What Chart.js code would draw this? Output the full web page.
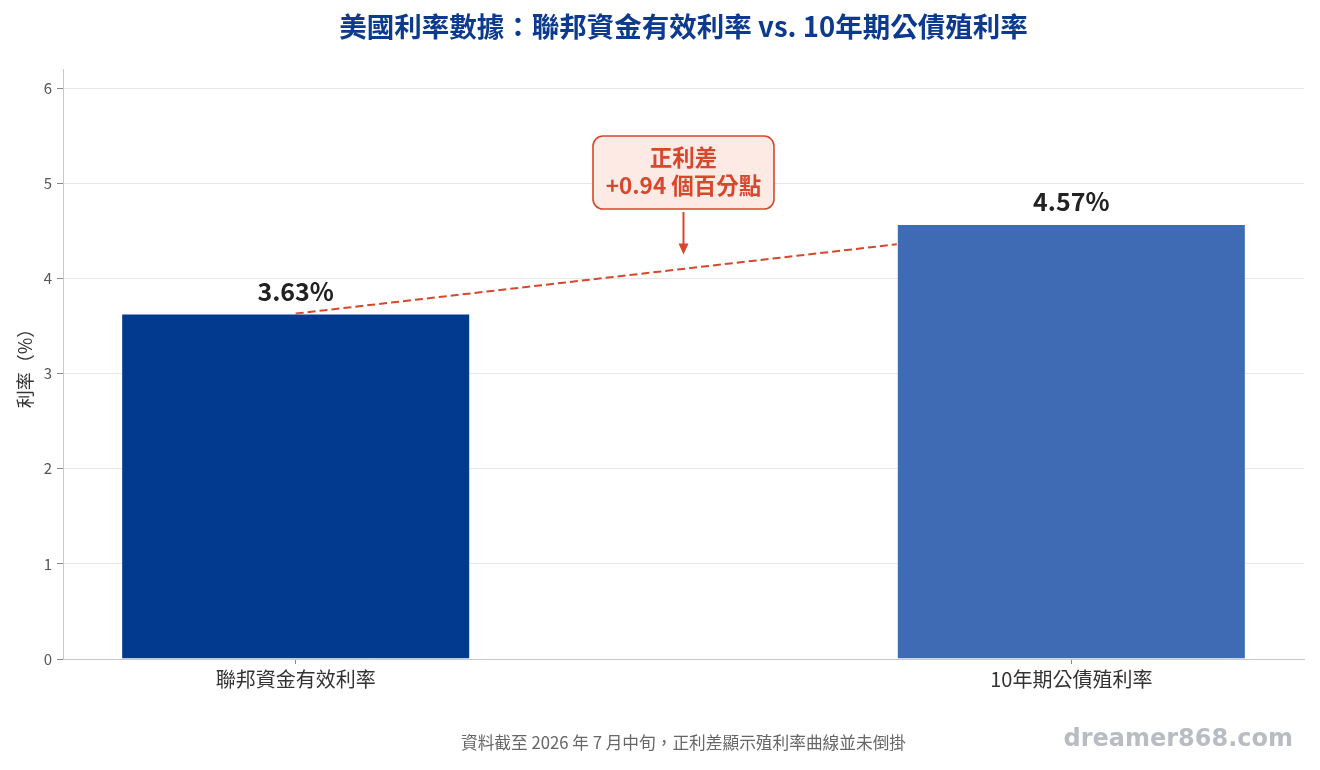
<!DOCTYPE html>
<html>
<head>
<meta charset="utf-8">
<script src="https://cdn.jsdelivr.net/npm/chart.js@4.4.1/dist/chart.umd.min.js"></script>
<style>
  html, body { margin: 0; padding: 0; background: #fff; }
  #wrap { width: 1320px; height: 770px; }
</style>
</head>
<body>
<div id="wrap"><canvas id="rateChart" width="1320" height="770"></canvas></div>
<script>
// 資料
const categories = ['聯邦資金有效利率', '10年期公債殖利率'];
const rates = [3.63, 4.57];
const barColors = ['#023a8f', '#3f6bb5'];
const yTicks = [0, 1, 2, 3, 4, 5, 6];

const TITLE = '美國利率數據：聯邦資金有效利率 vs. 10年期公債殖利率';
const FOOTER = '資料截至 2026 年 7 月中旬，正利差顯示殖利率曲線並未倒掛';
const WATERMARK = 'dreamer868.com';
const CJK = '"Noto Sans CJK TC", "Noto Sans", sans-serif';
const RED = '#d6472b';

const spread = rates[1] - rates[0];

const overlay = {
  id: 'overlay',
  beforeDraw(chart) {
    const c = chart.ctx;
    c.save();
    c.fillStyle = '#fff';
    c.fillRect(0, 0, chart.width, chart.height);
    c.restore();
  },
  // 虛線藏在第二根柱子後面
  beforeDatasetDraw(chart, args) {
    if (args.index !== 1) return;
    const a = chart.chartArea;
    const b = chart.getDatasetMeta(0).data[1];
    chart.ctx.save();
    chart.ctx.beginPath();
    chart.ctx.rect(a.left, a.top, (b.x - b.width / 2) - a.left, a.bottom - a.top);
    chart.ctx.clip();
  },
  afterDatasetDraw(chart, args) {
    if (args.index === 1) chart.ctx.restore();
  },
  afterDatasetsDraw(chart) {
    const c = chart.ctx;
    const xs = chart.scales.x, ys = chart.scales.y;
    const meta = chart.getDatasetMeta(0);

    // 數值標籤
    c.save();
    c.fillStyle = '#222';
    c.font = 'bold 25px ' + CJK;
    c.textAlign = 'center';
    c.textBaseline = 'alphabetic';
    meta.data.forEach((bar, i) => {
      c.fillText(rates[i].toFixed(2) + '%', bar.x, bar.y - 13);
    });
    c.restore();

    // 利差標註
    const cx = xs.getPixelForValue(0.5);
    const cy = ys.getPixelForValue(5.112);
    const tipY = ys.getPixelForValue(4.25);
    const bw = 181, bh = 73;
    const bx = cx - bw / 2, by = cy - bh / 2;
    c.save();
    c.beginPath();
    c.roundRect(bx, by, bw, bh, 10);
    c.fillStyle = '#fdeae5';
    c.fill();
    c.lineWidth = 1.6;
    c.strokeStyle = RED;
    c.stroke();

    c.fillStyle = RED;
    c.font = 'bold 22.5px ' + CJK;
    c.textAlign = 'center';
    c.textBaseline = 'middle';
    c.fillText('正利差', cx, cy - 15);
    c.fillText('+' + spread.toFixed(2) + ' 個百分點', cx, cy + 13);

    // 箭頭
    const startY = by + bh + 3;
    c.beginPath();
    c.moveTo(cx, startY);
    c.lineTo(cx, tipY - 9);
    c.lineWidth = 2;
    c.strokeStyle = RED;
    c.stroke();
    c.beginPath();
    c.moveTo(cx, tipY);
    c.lineTo(cx - 5, tipY - 11);
    c.lineTo(cx + 5, tipY - 11);
    c.closePath();
    c.fill();
    c.restore();
  },
  afterDraw(chart) {
    const c = chart.ctx;
    const area = chart.chartArea;
    const mid = (area.left + area.right) / 2;
    c.save();
    c.textAlign = 'center';
    c.textBaseline = 'middle';
    c.fillStyle = '#0b3a8e';
    c.font = 'bold 27.5px ' + CJK;
    c.fillText(TITLE, mid, 27);

    c.fillStyle = '#666';
    c.font = '16.7px ' + CJK;
    c.fillText(FOOTER, mid, 743);

    c.fillStyle = '#b9bcc3';
    c.font = 'bold 24px "DejaVu Sans", sans-serif';
    c.textAlign = 'right';
    c.fillText(WATERMARK, 1293, 740);
    c.restore();
  }
};

new Chart(document.getElementById('rateChart'), {
  type: 'bar',
  data: {
    datasets: [
      {
        type: 'bar',
        data: rates.map((v, i) => ({ x: i, y: v })),
        backgroundColor: barColors,
        borderColor: 'rgba(255,255,255,0.55)',
        borderWidth: 1,
        barPercentage: 0.45,
        categoryPercentage: 1,
        order: 0
      },
      {
        type: 'line',
        data: rates.map((v, i) => ({ x: i, y: v })),
        borderColor: RED,
        borderWidth: 2,
        borderDash: [8, 4],
        pointRadius: 0,
        fill: false,
        order: 1
      }
    ]
  },
  options: {
    responsive: false,
    animation: false,
    layout: { padding: { top: 69, right: 16, left: 0, bottom: 0 } },
    plugins: { legend: { display: false }, tooltip: { enabled: false }, title: { display: false } },
    scales: {
      x: {
        type: 'linear',
        min: -0.3,
        max: 1.3,
        offset: false,
        afterBuildTicks: s => { s.ticks = categories.map((_, i) => ({ value: i })); },
        afterFit: s => { s.height = 111; },
        ticks: {
          callback: v => categories[v] ?? '',
          color: '#333',
          font: { family: CJK, size: 20 },
          padding: 3,
          maxRotation: 0,
          autoSkip: false
        },
        grid: { offset: false, drawOnChartArea: false, tickLength: 5, tickColor: '#888' },
        border: { color: '#c8c8c8' }
      },
      y: {
        min: 0,
        max: 6.2,
        afterBuildTicks: s => { s.ticks = yTicks.map(v => ({ value: v })); },
        afterFit: s => { s.width = 63; },
        ticks: { color: '#555', font: { family: CJK, size: 15 }, padding: 5 },
        grid: { color: '#e6e6e6', tickLength: 6, tickColor: '#888' },
        border: { color: '#c8c8c8' },
        title: { display: true, text: '利率（%）', color: '#333', font: { family: CJK, size: 18 }, padding: { top: 14 } }
      }
    }
  },
  plugins: [overlay]
});
</script>
</body>
</html>
